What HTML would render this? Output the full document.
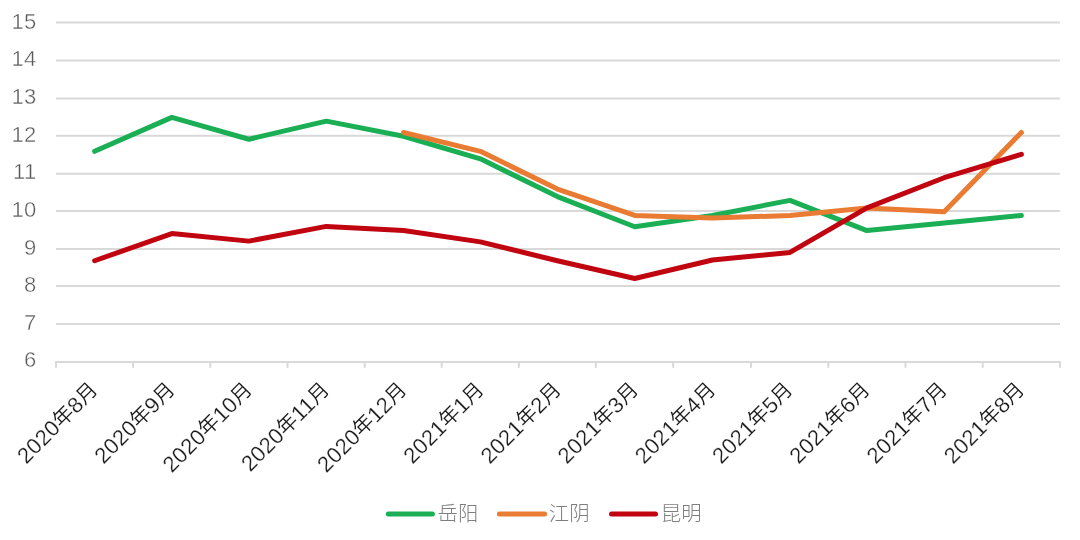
<!DOCTYPE html>
<html lang="zh"><head><meta charset="utf-8"><title>chart</title>
<style>html,body{margin:0;padding:0;background:#fff;}body{width:1080px;height:540px;overflow:hidden;}svg{display:block;will-change:transform;}text{font-family:"Liberation Sans","Noto Sans CJK SC",sans-serif;font-weight:300;}.d{font-size:22px;letter-spacing:0.3px;stroke:#fff;stroke-width:0.2px;}.yl{stroke-width:0.4px;}.c{font-size:20.4px;font-weight:350;}</style></head><body>
<svg width="1080" height="540" viewBox="0 0 1080 540">
<rect width="1080" height="540" fill="#ffffff"/>
<g stroke="#d9d9d9" stroke-width="2.0" fill="none">
<line x1="56.00" y1="362.00" x2="1060.00" y2="362.00"/>
<line x1="56.00" y1="323.90" x2="1060.00" y2="323.90"/>
<line x1="56.00" y1="286.00" x2="1060.00" y2="286.00"/>
<line x1="56.00" y1="248.90" x2="1060.00" y2="248.90"/>
<line x1="56.00" y1="210.90" x2="1060.00" y2="210.90"/>
<line x1="56.00" y1="173.80" x2="1060.00" y2="173.80"/>
<line x1="56.00" y1="135.80" x2="1060.00" y2="135.80"/>
<line x1="56.00" y1="98.50" x2="1060.00" y2="98.50"/>
<line x1="56.00" y1="60.50" x2="1060.00" y2="60.50"/>
<line x1="56.00" y1="22.45" x2="1060.00" y2="22.45"/>
<line x1="56.00" y1="361.00" x2="56.00" y2="367.80"/>
<line x1="133.10" y1="361.00" x2="133.10" y2="367.80"/>
<line x1="210.30" y1="361.00" x2="210.30" y2="367.80"/>
<line x1="287.50" y1="361.00" x2="287.50" y2="367.80"/>
<line x1="364.70" y1="361.00" x2="364.70" y2="367.80"/>
<line x1="441.70" y1="361.00" x2="441.70" y2="367.80"/>
<line x1="518.80" y1="361.00" x2="518.80" y2="367.80"/>
<line x1="595.80" y1="361.00" x2="595.80" y2="367.80"/>
<line x1="673.20" y1="361.00" x2="673.20" y2="367.80"/>
<line x1="751.00" y1="361.00" x2="751.00" y2="367.80"/>
<line x1="828.30" y1="361.00" x2="828.30" y2="367.80"/>
<line x1="905.50" y1="361.00" x2="905.50" y2="367.80"/>
<line x1="982.70" y1="361.00" x2="982.70" y2="367.80"/>
<line x1="1060.00" y1="361.00" x2="1060.00" y2="367.80"/>
</g>
<g fill="#595959" font-size="20" text-anchor="end">
<text class="d yl" x="36.5" y="367.45">6</text>
<text class="d yl" x="36.5" y="329.80">7</text>
<text class="d yl" x="36.5" y="292.15">8</text>
<text class="d yl" x="36.5" y="254.50">9</text>
<text class="d yl" x="36.5" y="216.85">10</text>
<text class="d yl" x="36.5" y="179.20">11</text>
<text class="d yl" x="36.5" y="141.55">12</text>
<text class="d yl" x="36.5" y="103.90">13</text>
<text class="d yl" x="36.5" y="66.25">14</text>
<text class="d yl" x="36.5" y="28.60">15</text>
</g>
<g fill="#1a1a1a" font-size="20" text-anchor="end">
<text transform="translate(98.72 390.80) rotate(-45)" x="0" y="0"><tspan class="d" dy="1">2020</tspan><tspan class="c" dy="-1">年</tspan><tspan class="d" dy="1">8</tspan><tspan class="c" dy="-1">月</tspan></text>
<text transform="translate(175.95 390.80) rotate(-45)" x="0" y="0"><tspan class="d" dy="1">2020</tspan><tspan class="c" dy="-1">年</tspan><tspan class="d" dy="1">9</tspan><tspan class="c" dy="-1">月</tspan></text>
<text transform="translate(253.18 390.80) rotate(-45)" x="0" y="0"><tspan class="d" dy="1">2020</tspan><tspan class="c" dy="-1">年</tspan><tspan class="d" dy="1">10</tspan><tspan class="c" dy="-1">月</tspan></text>
<text transform="translate(330.41 390.80) rotate(-45)" x="0" y="0"><tspan class="d" dy="1">2020</tspan><tspan class="c" dy="-1">年</tspan><tspan class="d" dy="1">11</tspan><tspan class="c" dy="-1">月</tspan></text>
<text transform="translate(407.64 390.80) rotate(-45)" x="0" y="0"><tspan class="d" dy="1">2020</tspan><tspan class="c" dy="-1">年</tspan><tspan class="d" dy="1">12</tspan><tspan class="c" dy="-1">月</tspan></text>
<text transform="translate(484.87 390.80) rotate(-45)" x="0" y="0"><tspan class="d" dy="1">2021</tspan><tspan class="c" dy="-1">年</tspan><tspan class="d" dy="1">1</tspan><tspan class="c" dy="-1">月</tspan></text>
<text transform="translate(562.10 390.80) rotate(-45)" x="0" y="0"><tspan class="d" dy="1">2021</tspan><tspan class="c" dy="-1">年</tspan><tspan class="d" dy="1">2</tspan><tspan class="c" dy="-1">月</tspan></text>
<text transform="translate(639.33 390.80) rotate(-45)" x="0" y="0"><tspan class="d" dy="1">2021</tspan><tspan class="c" dy="-1">年</tspan><tspan class="d" dy="1">3</tspan><tspan class="c" dy="-1">月</tspan></text>
<text transform="translate(716.56 390.80) rotate(-45)" x="0" y="0"><tspan class="d" dy="1">2021</tspan><tspan class="c" dy="-1">年</tspan><tspan class="d" dy="1">4</tspan><tspan class="c" dy="-1">月</tspan></text>
<text transform="translate(793.79 390.80) rotate(-45)" x="0" y="0"><tspan class="d" dy="1">2021</tspan><tspan class="c" dy="-1">年</tspan><tspan class="d" dy="1">5</tspan><tspan class="c" dy="-1">月</tspan></text>
<text transform="translate(871.02 390.80) rotate(-45)" x="0" y="0"><tspan class="d" dy="1">2021</tspan><tspan class="c" dy="-1">年</tspan><tspan class="d" dy="1">6</tspan><tspan class="c" dy="-1">月</tspan></text>
<text transform="translate(948.25 390.80) rotate(-45)" x="0" y="0"><tspan class="d" dy="1">2021</tspan><tspan class="c" dy="-1">年</tspan><tspan class="d" dy="1">7</tspan><tspan class="c" dy="-1">月</tspan></text>
<text transform="translate(1025.48 390.80) rotate(-45)" x="0" y="0"><tspan class="d" dy="1">2021</tspan><tspan class="c" dy="-1">年</tspan><tspan class="d" dy="1">8</tspan><tspan class="c" dy="-1">月</tspan></text>
</g>
<polyline points="94.62,151.32 171.85,117.37 248.88,139.25 326.31,121.14 403.54,136.23 480.37,158.87 557.40,196.60 634.73,226.78 712.46,215.46 789.99,200.37 866.92,230.55 944.15,223.01 1021.38,215.46" fill="none" stroke="#1aaf54" stroke-width="5.0" stroke-linecap="round" stroke-linejoin="round"/>
<polyline points="403.54,132.46 480.37,151.32 557.40,189.05 634.73,215.46 712.46,218.10 789.99,215.46 866.92,207.92 944.15,211.69 1021.38,132.46" fill="none" stroke="#ea7b33" stroke-width="5.0" stroke-linecap="round" stroke-linejoin="round"/>
<polyline points="94.62,260.74 171.85,233.57 248.88,241.12 326.31,226.40 403.54,230.55 480.37,241.87 557.40,260.74 634.73,278.47 712.46,259.98 789.99,252.43 866.92,207.92 944.15,177.73 1021.38,154.34" fill="none" stroke="#c00511" stroke-width="5.0" stroke-linecap="round" stroke-linejoin="round"/>
<line x1="388.30" y1="514.0" x2="432.40" y2="514.0" stroke="#1aaf54" stroke-width="5.0" stroke-linecap="round"/>
<text x="437.60" y="520.90" font-size="20.4" fill="#7f7f7f">岳阳</text>
<line x1="499.40" y1="514.0" x2="544.60" y2="514.0" stroke="#ea7b33" stroke-width="5.0" stroke-linecap="round"/>
<text x="548.80" y="520.90" font-size="20.4" fill="#7f7f7f">江阴</text>
<line x1="611.50" y1="514.0" x2="655.50" y2="514.0" stroke="#c00511" stroke-width="5.0" stroke-linecap="round"/>
<text x="660.80" y="520.90" font-size="20.4" fill="#7f7f7f">昆明</text>
</svg></body></html>
